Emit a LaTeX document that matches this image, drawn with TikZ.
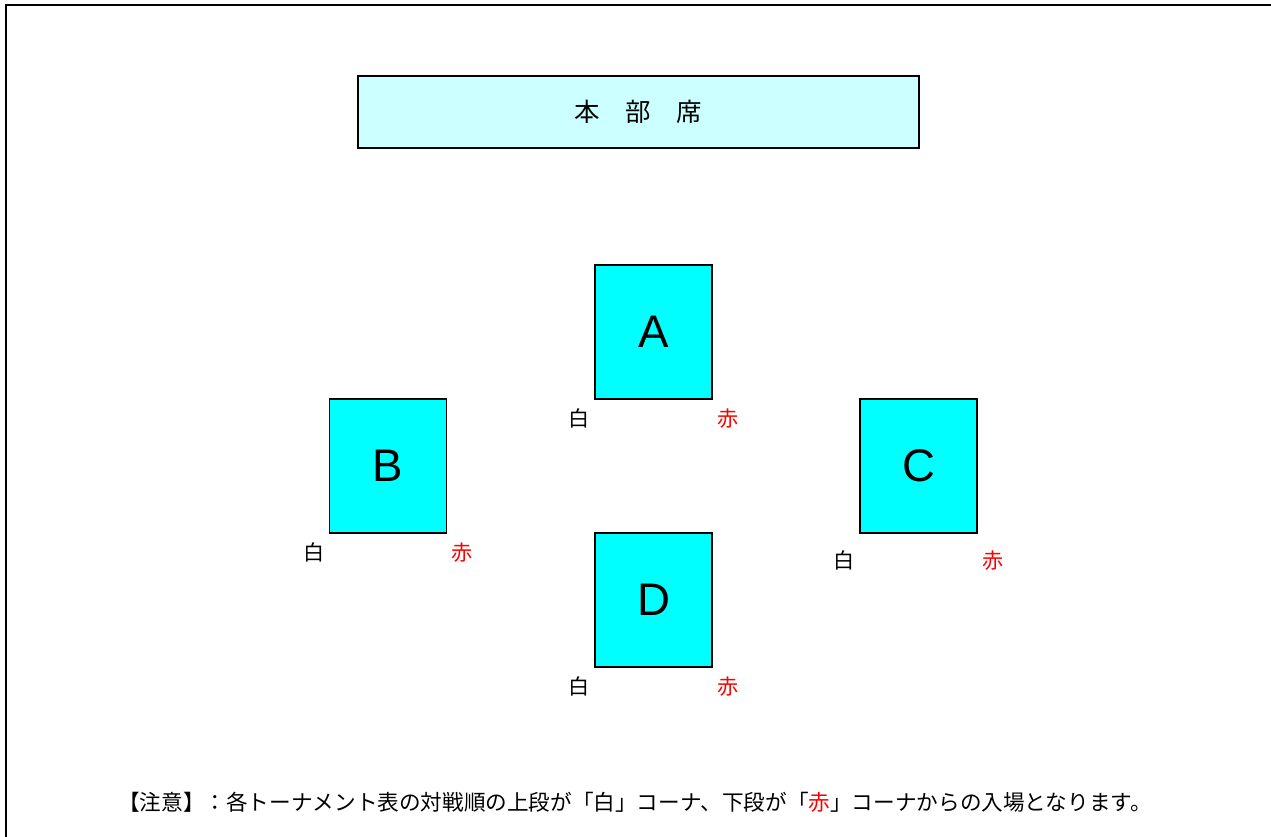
\documentclass[tikz,border=0pt]{standalone}
\usepackage{fontspec}
\setmainfont{Liberation Sans}
\newfontfamily\jp{Noto Sans CJK JP}
\usetikzlibrary{positioning,calc}
\definecolor{deskfill}{HTML}{CCFFFF}
\definecolor{courtfill}{HTML}{00FFFF}
\definecolor{akared}{HTML}{FF0000}
\tikzset{
  desk/.style={draw,line width=0.9pt,fill=deskfill,minimum width=11.22cm,minimum height=1.44cm,font=\jp\fontsize{14.5}{16}\selectfont},
  court/.style={draw,line width=0.9pt,fill=courtfill,minimum width=2.34cm,minimum height=2.68cm,font=\fontsize{26}{30}\selectfont},
  shiro/.style={font=\jp\fontsize{12}{14}\selectfont,inner sep=0pt},
  aka/.style={shiro,text=akared},
  note/.style={font=\jp\fontsize{12.3}{14}\selectfont,inner sep=0pt}
}

\begin{document}
\begin{tikzpicture}[x=0.02cm,y=-0.02cm]
    \useasboundingbox (0,0) rectangle (1271,837);
    \draw [line width=1.1pt] (6,837) -- (6,5) -- (1271,5);

    \node [desk] (honbu) at (638.5,112) {本　部　席};

    \node [court] (A) at (653.5,332) {A};
    \node [court] (B) at (388,466) {B};
    \node [court] (C) at (918.5,466) {C};
    \node [court] (D) at (653.5,600) {D};

    \node [shiro] (Aw) at ($(A.south west)+(-15,19)$) {白};
    \node [aka] (Ar) at ($(A.south east)+(15,19)$) {赤};
    \node [shiro] (Bw) at ($(B.south west)+(-15,19)$) {白};
    \node [aka] (Br) at ($(B.south east)+(15,19)$) {赤};
    \node [shiro] (Cw) at ($(C.south west)+(-15,27)$) {白};
    \node [aka] (Cr) at ($(C.south east)+(15,27)$) {赤};
    \node [shiro] (Dw) at ($(D.south west)+(-15,19)$) {白};
    \node [aka] (Dr) at ($(D.south east)+(15,19)$) {赤};

    \node [note] (chui) at (635,802) {【注意】：各トーナメント表の対戦順の上段が「白」コーナ、下段が「\textcolor{akared}{赤}」コーナからの入場となります。};
\end{tikzpicture}
\end{document}
